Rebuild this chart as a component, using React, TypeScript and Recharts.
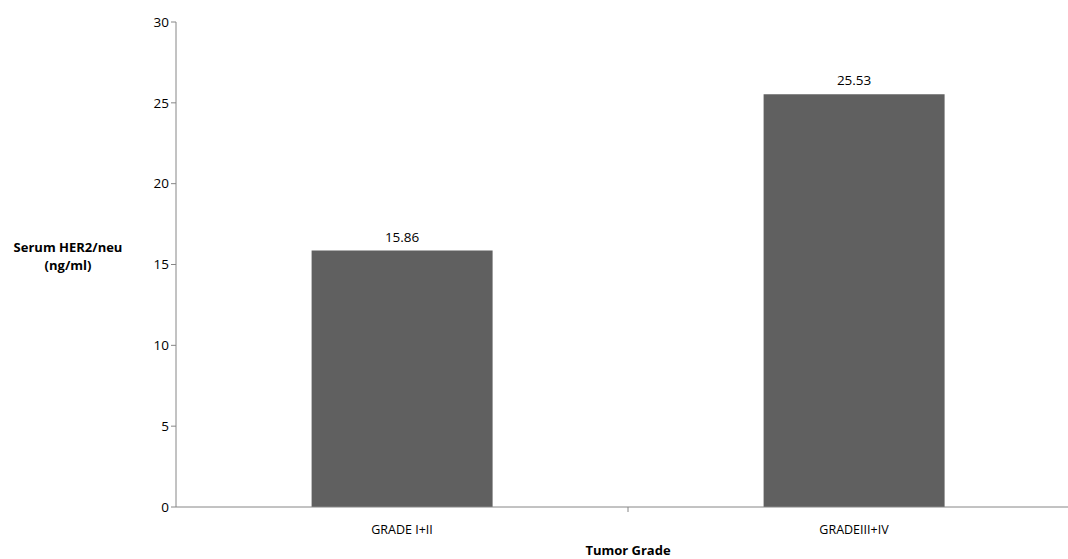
import React from 'react';
import { BarChart, Bar, XAxis, YAxis, LabelList, Label } from 'recharts';

const grades = ['GRADE I+II', 'GRADEIII+IV'];
const her2Values = [15.86, 25.53];
const yTicks = [0, 5, 10, 15, 20, 25, 30];

const data = grades.map((grade, i) => ({ grade, value: her2Values[i] }));

const FONT = 'Open Sans, Lato, sans-serif';

// category label at band centre, tick mark at the band's right boundary
function GradeTick(props: any) {
    const { x, y, payload } = props;
    const half = 226;
    return (
        <g>
            <line x1={x + half} y1={y - 8} x2={x + half} y2={y - 3} stroke="#868686" />
            <text x={x} y={y + 19} textAnchor="middle" fill="#000" fontSize={12.5} fontFamily={FONT}>
                {payload.value}
            </text>
        </g>
    );
}

function YTitle(props: any) {
    return (
        <text x={68} y={252} textAnchor="middle" fontSize={13} fontWeight="bold" fontFamily={FONT} fill="#000">
            <tspan x={68} dy={0}>Serum HER2/neu</tspan>
            <tspan x={68} dy={18}>(ng/ml)</tspan>
        </text>
    );
}

export default function App() {
    return (
        <div style={{ position: 'absolute', left: 0, top: 0, width: 1068, height: 559, overflow: 'hidden', background: '#fff' }}>
            <BarChart
                width={1090}
                height={559}
                data={data}
                margin={{ top: 22, right: 10, left: 0, bottom: 0 }}
                barCategoryGap="30%"
            >
                <XAxis
                    dataKey="grade"
                    height={52}
                    stroke="#868686"
                    tickLine={false}
                    tick={<GradeTick />}
                    interval={0}
                >
                    <Label
                        value="Tumor Grade"
                        position="insideBottom"
                        offset={4}
                        fontSize={13}
                        fontWeight="bold"
                        fontFamily={FONT}
                        fill="#000"
                    />
                </XAxis>
                <YAxis
                    width={176}
                    domain={[0, 30]}
                    ticks={yTicks}
                    stroke="#868686"
                    tickSize={5}
                    tick={{ fill: '#000', fontSize: 13.5, fontFamily: FONT }}
                    label={<YTitle />}
                />
                <Bar dataKey="value" fill="#606060" isAnimationActive={false}>
                    <LabelList
                        dataKey="value"
                        position="top"
                        offset={9}
                        fill="#000"
                        fontSize={13.5}
                        fontFamily={FONT}
                        formatter={(v: any) => Number(v).toFixed(2)}
                    />
                </Bar>
            </BarChart>
        </div>
    );
}
